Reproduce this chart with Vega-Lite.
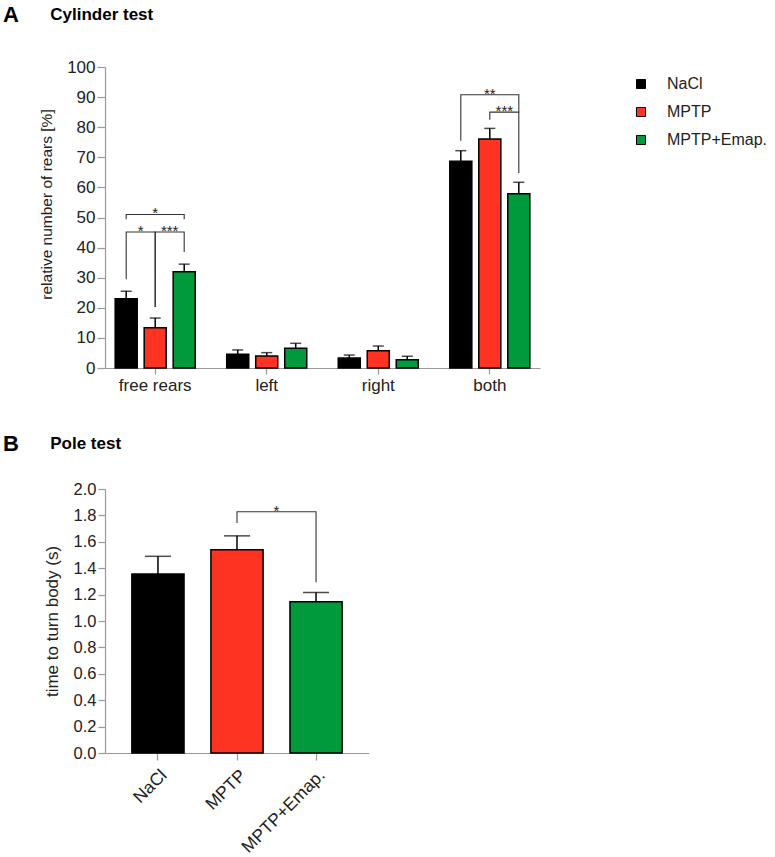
{
  "$schema": "https://vega.github.io/schema/vega-lite/v6.json",
  "padding": {"left": 3, "top": 4, "right": 5, "bottom": 5},
  "spacing": 39,
  "datasets": {
    "cyl": [
      {"test": "free rears", "group": "NaCl", "mean": 23.0, "upper": 25.5},
      {"test": "free rears", "group": "MPTP", "mean": 13.4, "upper": 16.6},
      {"test": "free rears", "group": "MPTP+Emap.", "mean": 32.0, "upper": 34.5},
      {"test": "left", "group": "NaCl", "mean": 4.6, "upper": 6.0},
      {"test": "left", "group": "MPTP", "mean": 4.0, "upper": 5.1},
      {"test": "left", "group": "MPTP+Emap.", "mean": 6.6, "upper": 8.2},
      {"test": "right", "group": "NaCl", "mean": 3.3, "upper": 4.3},
      {"test": "right", "group": "MPTP", "mean": 5.7, "upper": 7.3},
      {"test": "right", "group": "MPTP+Emap.", "mean": 2.7, "upper": 3.9},
      {"test": "both", "group": "NaCl", "mean": 68.7, "upper": 72.2},
      {"test": "both", "group": "MPTP", "mean": 76.1, "upper": 79.6},
      {"test": "both", "group": "MPTP+Emap.", "mean": 57.9, "upper": 61.7}
    ],
    "cylBr": [
      {"test": "free rears", "group": "NaCl", "val": 49.4, "id": "b1", "ord": 1},
      {"test": "free rears", "group": "NaCl", "val": 51.0, "id": "b1", "ord": 2},
      {"test": "free rears", "group": "MPTP+Emap.", "val": 51.0, "id": "b1", "ord": 3},
      {"test": "free rears", "group": "MPTP+Emap.", "val": 49.4, "id": "b1", "ord": 4},
      {"test": "free rears", "group": "NaCl", "val": 29.5, "id": "b2", "ord": 1},
      {"test": "free rears", "group": "NaCl", "val": 45.2, "id": "b2", "ord": 2},
      {"test": "free rears", "group": "MPTP", "val": 45.2, "id": "b2", "ord": 3},
      {"test": "free rears", "group": "MPTP", "val": 20.3, "id": "b2", "ord": 4},
      {"test": "free rears", "group": "MPTP", "val": 20.3, "id": "b3", "ord": 1},
      {"test": "free rears", "group": "MPTP", "val": 45.2, "id": "b3", "ord": 2},
      {"test": "free rears", "group": "MPTP+Emap.", "val": 45.2, "id": "b3", "ord": 3},
      {"test": "free rears", "group": "MPTP+Emap.", "val": 38.5, "id": "b3", "ord": 4},
      {"test": "both", "group": "NaCl", "val": 75.5, "id": "b4", "ord": 1},
      {"test": "both", "group": "NaCl", "val": 90.8, "id": "b4", "ord": 2},
      {"test": "both", "group": "MPTP+Emap.", "val": 90.8, "id": "b4", "ord": 3},
      {"test": "both", "group": "MPTP+Emap.", "val": 85.0, "id": "b4", "ord": 4},
      {"test": "both", "group": "MPTP", "val": 82.5, "id": "b5", "ord": 1},
      {"test": "both", "group": "MPTP", "val": 85.0, "id": "b5", "ord": 2},
      {"test": "both", "group": "MPTP+Emap.", "val": 85.0, "id": "b5", "ord": 3},
      {"test": "both", "group": "MPTP+Emap.", "val": 64.8, "id": "b5", "ord": 4}
    ],
    "cylStars": [
      {"test": "free rears", "group": "MPTP", "val": 51.0, "star": "*", "pos": "on"},
      {"test": "free rears", "group": "NaCl", "val": 45.2, "star": "*", "pos": "between"},
      {"test": "free rears", "group": "MPTP", "val": 45.2, "star": "***", "pos": "between"},
      {"test": "both", "group": "MPTP", "val": 90.8, "star": "**", "pos": "on"},
      {"test": "both", "group": "MPTP", "val": 85.0, "star": "***", "pos": "between"}
    ],
    "pole": [
      {"group": "NaCl", "mean": 1.357, "upper": 1.49},
      {"group": "MPTP", "mean": 1.539, "upper": 1.645},
      {"group": "MPTP+Emap.", "mean": 1.145, "upper": 1.216}
    ],
    "poleBr": [
      {"group": "MPTP", "val": 1.743, "ord": 1},
      {"group": "MPTP", "val": 1.828, "ord": 2},
      {"group": "MPTP+Emap.", "val": 1.828, "ord": 3},
      {"group": "MPTP+Emap.", "val": 1.293, "ord": 4}
    ],
    "poleStars": [
      {"group": "MPTP", "val": 1.828, "star": "*"}
    ]
  },
  "resolve": {"scale": {"color": "independent"}, "legend": {"color": "independent"}},
  "vconcat": [
    {
      "width": 435,
      "height": 301,
      "title": {
        "text": "A",
        "subtitle": "\u200b\u00a0\u00a0\u00a0\u00a0\u00a0\u00a0\u00a0\u00a0\u00a0\u00a0Cylinder test",
        "anchor": "start",
        "frame": "group",
        "dx": -102,
        "offset": 31,
        "font": "Liberation Sans",
        "fontSize": 22,
        "fontWeight": "bold",
        "color": "#000",
        "subtitleFont": "Liberation Sans",
        "subtitleFontSize": 17,
        "subtitleFontWeight": "bold",
        "subtitleColor": "#000",
        "subtitlePadding": -20
      },
      "layer": [
        {
          "data": {"name": "cyl"},
          "mark": {"type": "bar", "stroke": "#000", "strokeWidth": 1.5},
          "encoding": {
            "x": {
              "field": "test", "type": "nominal",
              "scale": {"domain": ["free rears", "left", "right", "both"], "paddingInner": 0.22, "paddingOuter": 0.06},
              "axis": {"title": null, "labelAngle": 0, "labelFontSize": 17, "tickSize": 6, "labelPadding": 3}
            },
            "xOffset": {
              "field": "group", "type": "nominal",
              "scale": {"domain": ["NaCl", "MPTP", "MPTP+Emap."], "paddingInner": 0.24, "paddingOuter": 0.12}
            },
            "y": {
              "field": "mean", "type": "quantitative",
              "scale": {"domain": [0, 100], "nice": false},
              "axis": {"title": "relative number of rears [%]", "values": [0, 10, 20, 30, 40, 50, 60, 70, 80, 90, 100], "tickCount": 11, "labelOverlap": false, "labelFontSize": 17, "tickSize": 8, "labelPadding": 2, "titleFontSize": 15.5, "titlePadding": 12, "titleY": 137}
            },
            "color": {
              "field": "group", "type": "nominal",
              "scale": {"domain": ["NaCl", "MPTP", "MPTP+Emap."], "range": ["#000000", "#ff3322", "#009a3d"]},
              "legend": {
                "title": null, "orient": "right", "offset": 83.5, "padding": 9,
                "symbolType": "square", "symbolSize": 81, "symbolStrokeColor": "#000", "symbolStrokeWidth": 1,
                "labelFontSize": 16, "labelFont": "Liberation Sans", "labelColor": "#222", "labelOffset": 18, "rowPadding": 12
              }
            }
          }
        },
        {
          "data": {"name": "cyl"},
          "mark": {"type": "rule", "color": "#000", "strokeWidth": 1.5},
          "encoding": {
            "x": {"field": "test", "type": "nominal"},
            "xOffset": {"field": "group", "type": "nominal"},
            "y": {"field": "mean", "type": "quantitative", "axis": {"title": "relative number of rears [%]", "values": [0, 10, 20, 30, 40, 50, 60, 70, 80, 90, 100], "tickCount": 11, "labelOverlap": false, "labelFontSize": 17, "tickSize": 8, "labelPadding": 2, "titleFontSize": 15.5, "titlePadding": 12, "titleY": 137}},
            "y2": {"field": "upper"}
          }
        },
        {
          "data": {"name": "cyl"},
          "mark": {"type": "tick", "color": "#000", "thickness": 1.5, "size": 11},
          "encoding": {
            "x": {"field": "test", "type": "nominal"},
            "xOffset": {"field": "group", "type": "nominal"},
            "y": {"field": "upper", "type": "quantitative", "axis": {"title": "relative number of rears [%]", "values": [0, 10, 20, 30, 40, 50, 60, 70, 80, 90, 100], "tickCount": 11, "labelOverlap": false, "labelFontSize": 17, "tickSize": 8, "labelPadding": 2, "titleFontSize": 15.5, "titlePadding": 12, "titleY": 137}}
          }
        },
        {
          "data": {"name": "cylBr"},
          "mark": {"type": "line", "color": "#333", "strokeWidth": 1.1},
          "encoding": {
            "x": {"field": "test", "type": "nominal"},
            "xOffset": {"field": "group", "type": "nominal"},
            "y": {"field": "val", "type": "quantitative", "axis": {"title": "relative number of rears [%]", "values": [0, 10, 20, 30, 40, 50, 60, 70, 80, 90, 100], "tickCount": 11, "labelOverlap": false, "labelFontSize": 17, "tickSize": 8, "labelPadding": 2, "titleFontSize": 15.5, "titlePadding": 12, "titleY": 137}},
            "detail": {"field": "id", "type": "nominal"},
            "order": {"field": "ord", "type": "quantitative"}
          }
        },
        {
          "data": {"name": "cylStars"},
          "transform": [{"filter": "datum.pos === 'on'"}],
          "mark": {"type": "text", "fontSize": 15, "baseline": "alphabetic", "dy": 4, "color": "#222", "font": "Liberation Sans"},
          "encoding": {
            "x": {"field": "test", "type": "nominal"},
            "xOffset": {"field": "group", "type": "nominal"},
            "y": {"field": "val", "type": "quantitative"},
            "text": {"field": "star"}
          }
        },
        {
          "data": {"name": "cylStars"},
          "transform": [{"filter": "datum.pos === 'between'"}],
          "mark": {"type": "text", "fontSize": 15, "baseline": "alphabetic", "dy": 4, "dx": 14.5, "color": "#222", "font": "Liberation Sans"},
          "encoding": {
            "x": {"field": "test", "type": "nominal"},
            "xOffset": {"field": "group", "type": "nominal"},
            "y": {"field": "val", "type": "quantitative"},
            "text": {"field": "star"}
          }
        }
      ]
    },
    {
      "width": 264,
      "height": 264,
      "title": {
        "text": "B",
        "subtitle": "\u200b\u00a0\u00a0\u00a0\u00a0\u00a0\u00a0\u00a0\u00a0\u00a0\u00a0Pole test",
        "anchor": "start",
        "frame": "group",
        "dx": -102,
        "offset": 25.5,
        "font": "Liberation Sans",
        "fontSize": 22,
        "fontWeight": "bold",
        "color": "#000",
        "subtitleFont": "Liberation Sans",
        "subtitleFontSize": 17,
        "subtitleFontWeight": "bold",
        "subtitleColor": "#000",
        "subtitlePadding": -20
      },
      "layer": [
        {
          "data": {"name": "pole"},
          "mark": {"type": "bar", "stroke": "#000", "strokeWidth": 1.5},
          "encoding": {
            "x": {
              "field": "group", "type": "nominal",
              "scale": {"domain": ["NaCl", "MPTP", "MPTP+Emap."], "paddingInner": 0.34, "paddingOuter": 0.34},
              "axis": {"title": null, "labelAngle": -45, "labelFontSize": 17.5, "tickSize": 7, "labelPadding": 6}
            },
            "y": {
              "field": "mean", "type": "quantitative",
              "scale": {"domain": [0, 2], "nice": false},
              "axis": {"title": "time to turn body (s)", "values": [0, 0.2, 0.4, 0.6, 0.8, 1.0, 1.2, 1.4, 1.6, 1.8, 2.0], "tickCount": 11, "labelOverlap": false, "format": ".1f", "labelFontSize": 16.5, "tickSize": 7, "labelPadding": 2, "titleFontSize": 17, "titlePadding": 12}
            },
            "color": {
              "field": "group", "type": "nominal",
              "scale": {"domain": ["NaCl", "MPTP", "MPTP+Emap."], "range": ["#000000", "#ff3322", "#009a3d"]},
              "legend": null
            }
          }
        },
        {
          "data": {"name": "pole"},
          "mark": {"type": "rule", "color": "#000", "strokeWidth": 1.5},
          "encoding": {
            "x": {"field": "group", "type": "nominal"},
            "y": {"field": "mean", "type": "quantitative", "axis": {"title": "time to turn body (s)", "values": [0, 0.2, 0.4, 0.6, 0.8, 1.0, 1.2, 1.4, 1.6, 1.8, 2.0], "tickCount": 11, "labelOverlap": false, "format": ".1f", "labelFontSize": 16.5, "tickSize": 7, "labelPadding": 2, "titleFontSize": 17, "titlePadding": 12}},
            "y2": {"field": "upper"}
          }
        },
        {
          "data": {"name": "pole"},
          "mark": {"type": "tick", "color": "#000", "thickness": 1.5, "size": 26},
          "encoding": {
            "x": {"field": "group", "type": "nominal"},
            "y": {"field": "upper", "type": "quantitative", "axis": {"title": "time to turn body (s)", "values": [0, 0.2, 0.4, 0.6, 0.8, 1.0, 1.2, 1.4, 1.6, 1.8, 2.0], "tickCount": 11, "labelOverlap": false, "format": ".1f", "labelFontSize": 16.5, "tickSize": 7, "labelPadding": 2, "titleFontSize": 17, "titlePadding": 12}}
          }
        },
        {
          "data": {"name": "poleBr"},
          "mark": {"type": "line", "color": "#333", "strokeWidth": 1.1},
          "encoding": {
            "x": {"field": "group", "type": "nominal"},
            "y": {"field": "val", "type": "quantitative", "axis": {"title": "time to turn body (s)", "values": [0, 0.2, 0.4, 0.6, 0.8, 1.0, 1.2, 1.4, 1.6, 1.8, 2.0], "tickCount": 11, "labelOverlap": false, "format": ".1f", "labelFontSize": 16.5, "tickSize": 7, "labelPadding": 2, "titleFontSize": 17, "titlePadding": 12}},
            "order": {"field": "ord", "type": "quantitative"}
          }
        },
        {
          "data": {"name": "poleStars"},
          "mark": {"type": "text", "fontSize": 15, "baseline": "alphabetic", "dy": 4, "dx": 39.5, "color": "#222", "font": "Liberation Sans"},
          "encoding": {
            "x": {"field": "group", "type": "nominal"},
            "y": {"field": "val", "type": "quantitative"},
            "text": {"field": "star"}
          }
        }
      ]
    }
  ],
  "config": {
    "view": {"stroke": null},
    "font": "Liberation Sans",
    "axis": {
      "domainColor": "#999", "tickColor": "#999", "domainWidth": 1.2, "tickWidth": 1.2,
      "labelColor": "#222", "titleColor": "#222", "grid": false,
      "labelFont": "Liberation Sans", "titleFont": "Liberation Sans", "titleFontWeight": "normal"
    },
    "axisY": {"labelOverlap": false}
  }
}
